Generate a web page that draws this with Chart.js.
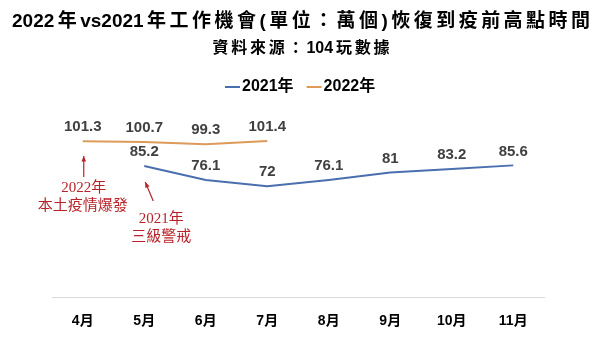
<!DOCTYPE html>
<html>
<head>
<meta charset="utf-8">
<script src="https://cdn.jsdelivr.net/npm/chart.js@4"></script>
<style>
  html, body { margin: 0; padding: 0; background: #fff; }
  #wrap { width: 600px; height: 352px; }
</style>
</head>
<body>
<div id="wrap"><canvas id="chart" width="600" height="352"></canvas></div>
<script>
const months = ["4月", "5月", "6月", "7月", "8月", "9月", "10月", "11月"];
const jobs2021 = [null, 85.2, 76.1, 72, 76.1, 81, 83.2, 85.6];
const jobs2022 = [101.3, 100.7, 99.3, 101.4, null, null, null, null];
const titleText = "2022年vs2021年工作機會(單位：萬個)恢復到疫前高點時間";
const subtitleText = "資料來源：104玩數據";
const notes = [
  { month: "4月", lines: ["2022年", "本土疫情爆發"] },
  { month: "5月", lines: ["2021年", "三級警戒"] }
];

const FONT = "'Liberation Sans', Arial, 'Noto Sans CJK TC', sans-serif";
const SERIF = "'Liberation Serif', 'DejaVu Serif', 'Noto Sans CJK TC', serif";

const isCJK = ch => ch && ch.charCodeAt(0) > 0x2e80;

// Latin runs stay tight, gaps only round the CJK characters, stretched to width
function spacedText(ctx, text, cx, cy, width) {
  const chars = [...text];
  const widths = chars.map(c => ctx.measureText(c).width);
  let gaps = 0;
  chars.forEach((c, i) => {
    if (i < chars.length - 1 && (isCJK(c) || isCJK(chars[i + 1]))) gaps++;
  });
  const base = widths.reduce((a, b) => a + b, 0);
  const sp = gaps ? Math.max(0, (width - base) / gaps) : 0;
  ctx.textAlign = "left";
  let x = cx - width / 2;
  chars.forEach((c, i) => {
    ctx.fillText(c, x, cy);
    x += widths[i];
    if (i < chars.length - 1 && (isCJK(c) || isCJK(chars[i + 1]))) x += sp;
  });
}

// title, subtitle and legend
const header = {
  id: "header",
  afterDraw(chart) {
    const ctx = chart.ctx;
    ctx.save();
    ctx.fillStyle = "#000";
    ctx.textBaseline = "middle";
    ctx.font = "bold 19px " + FONT;
    spacedText(ctx, titleText, 301, 22, 578);
    ctx.font = "bold 16px " + FONT;
    spacedText(ctx, subtitleText, 301, 49, 177);

    // legend
    ctx.font = "bold 16px " + FONT;
    ctx.textAlign = "left";
    let lx = 225;
    const ly = 87;
    chart.data.datasets.forEach(ds => {
      ctx.strokeStyle = ds.borderColor;
      ctx.lineWidth = 2;
      ctx.beginPath();
      ctx.moveTo(lx, ly);
      ctx.lineTo(lx + 15, ly);
      ctx.stroke();
      ctx.fillStyle = "#000";
      ctx.fillText(ds.label, lx + 17, ly);
      lx += 17 + ctx.measureText(ds.label).width + 13;
    });
    ctx.restore();
  }
};

// numbers above each point
const valueLabels = {
  id: "valueLabels",
  afterDatasetsDraw(chart) {
    const ctx = chart.ctx;
    ctx.save();
    ctx.font = "bold 15px " + FONT;
    ctx.fillStyle = "#404040";
    ctx.textAlign = "center";
    ctx.textBaseline = "middle";
    chart.data.datasets.forEach((ds, i) => {
      const meta = chart.getDatasetMeta(i);
      meta.data.forEach((pt, j) => {
        const v = ds.data[j];
        if (v == null) return;
        ctx.fillText(String(v), pt.x, pt.y - 14);
      });
    });
    ctx.restore();
  }
};

// red notes with arrows
const redNotes = {
  id: "redNotes",
  afterDraw(chart) {
    const ctx = chart.ctx;
    const x = chart.scales.x;
    ctx.save();
    ctx.strokeStyle = "#b8232a";
    ctx.fillStyle = "#b8232a";
    ctx.lineWidth = 1.2;
    ctx.font = "15px " + SERIF;
    ctx.textAlign = "center";
    ctx.textBaseline = "middle";

    const arrow = (x1, y1, x2, y2) => {
      ctx.beginPath();
      ctx.moveTo(x1, y1);
      ctx.lineTo(x2, y2);
      ctx.stroke();
      const a = Math.atan2(y2 - y1, x2 - x1);
      ctx.beginPath();
      ctx.moveTo(x2, y2);
      ctx.lineTo(x2 - 6 * Math.cos(a - 0.4), y2 - 6 * Math.sin(a - 0.4));
      ctx.lineTo(x2 - 6 * Math.cos(a + 0.4), y2 - 6 * Math.sin(a + 0.4));
      ctx.closePath();
      ctx.fill();
    };

    const x0 = x.getPixelForValue(months.indexOf(notes[0].month));
    arrow(x0 + 1, 177, x0 + 1, 156);
    ctx.fillText(notes[0].lines[0], x0 + 1, 188);
    ctx.fillText(notes[0].lines[1], x0, 206);

    const x1 = x.getPixelForValue(months.indexOf(notes[1].month));
    arrow(x1 + 9, 201, x1 + 1, 182);
    ctx.fillText(notes[1].lines[0], x1 + 17, 219);
    ctx.fillText(notes[1].lines[1], x1 + 17, 237);
    ctx.restore();
  }
};

new Chart(document.getElementById("chart"), {
  type: "line",
  data: {
    labels: months,
    datasets: [
      {
        label: "2021年",
        data: jobs2021,
        borderColor: "#4a6fae",
        backgroundColor: "#4a6fae",
        borderWidth: 2,
        pointRadius: 0,
        tension: 0
      },
      {
        label: "2022年",
        data: jobs2022,
        borderColor: "#dd9b5a",
        backgroundColor: "#dd9b5a",
        borderWidth: 2,
        pointRadius: 0,
        tension: 0
      }
    ]
  },
  options: {
    responsive: false,
    animation: false,
    layout: { padding: { left: 52, right: 56, top: 97, bottom: 14 } },
    plugins: {
      title: { display: false },
      legend: { display: false },
      tooltip: { enabled: false }
    },
    scales: {
      x: {
        offset: true,
        grid: { display: false },
        border: { display: true, color: "#d9d9d9", width: 1 },
        ticks: {
          color: "#000",
          padding: 8,
          font: { family: FONT, size: 14, weight: "bold" }
        }
      },
      y: {
        display: false,
        min: 0,
        max: 130
      }
    }
  },
  plugins: [valueLabels, redNotes, header]
});
</script>
</body>
</html>
